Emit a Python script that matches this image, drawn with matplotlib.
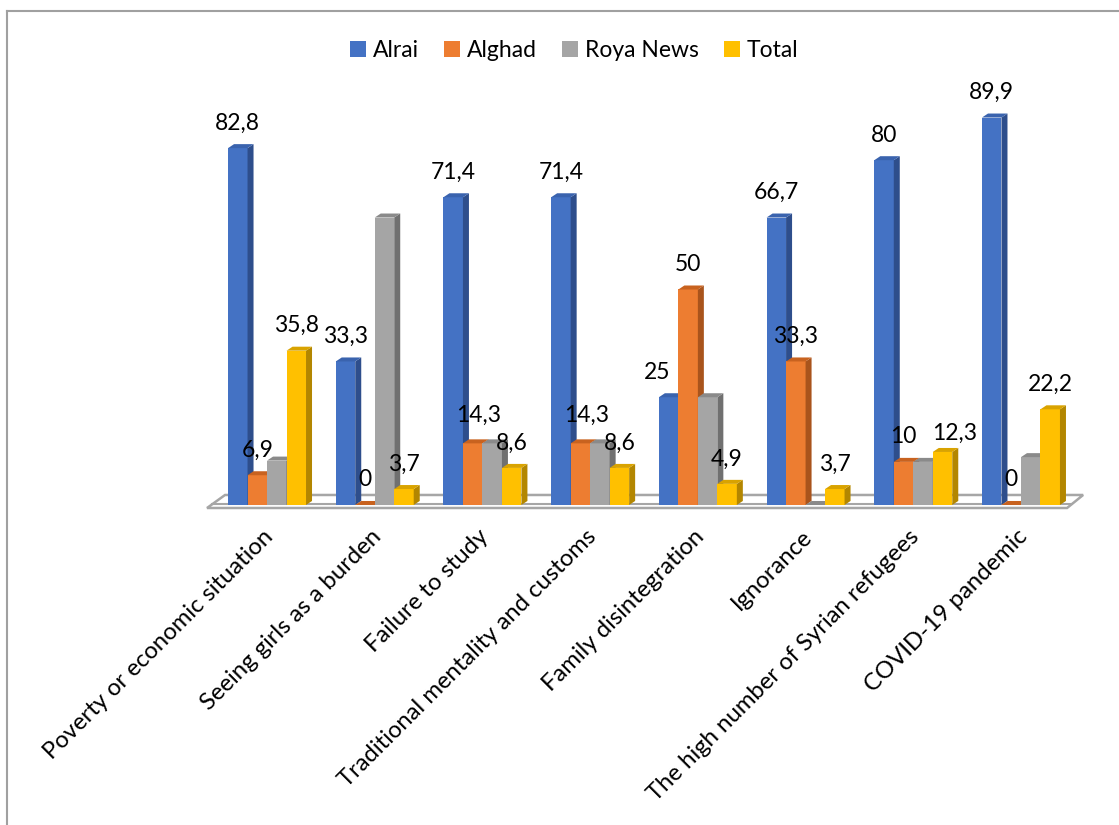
import matplotlib
matplotlib.use("Agg")
import matplotlib.pyplot as plt
from matplotlib.patches import Polygon, Patch
from matplotlib.lines import Line2D

plt.rcParams['font.family'] = ['Lato', 'DejaVu Sans']

categories = [
    "Poverty or economic situation",
    "Seeing girls as a burden",
    "Failure to study",
    "Traditional mentality and customs",
    "Family disintegration",
    "Ignorance",
    "The high number of Syrian refugees",
    "COVID-19 pandemic",
]
series_names = ["Alrai", "Alghad", "Roya News", "Total"]
alrai = [82.8, 33.3, 71.4, 71.4, 25, 66.7, 80, 89.9]
alghad = [6.9, 0, 14.3, 14.3, 50, 33.3, 10, 0]
roya_news = [10.3, 66.7, 14.3, 14.3, 25, 0, 10, 11.1]
total = [35.8, 3.7, 8.6, 8.6, 4.9, 3.7, 12.3, 22.2]
labelled = [True, True, False, True]  # Roya News carries no value labels

# front, side, top shades for the pseudo-3D bars
shades = [
    ("#4472C4", "#2E4E8C", "#3A63AE"),
    ("#ED7D31", "#A9541C", "#C8621F"),
    ("#A5A5A5", "#707070", "#8A8A8A"),
    ("#FFC000", "#B38600", "#D9A300"),
]

W, H, DPI = 1119, 825, 100
fig = plt.figure(figsize=(W / DPI, H / DPI), dpi=DPI)

# axes placed so one category step ~108 px and one value unit ~4.31 px
xlim = (-0.6, 7.6)
ylim = (-2.0, 100.0)
ax = fig.add_axes([202.4 / W, (H - 513.6) / H, 883.2 / W, 439.6 / H])
ax.set_xlim(*xlim)
ax.set_ylim(*ylim)
ax.axis("off")

bar_w = 0.181
dx = 6 / 107.7      # depth offset in category units
dy = 4 / 4.31       # depth offset in value units

all_series = [alrai, alghad, roya_news, total]
nudges = {(4, 0): (-11, 0), (6, 3): (12, -6), (2, 1): (6, 3), (3, 1): (6, 3)}

# floor slab
floor = Polygon([(-0.557, -0.70), (7.428, -0.70), (7.577, 2.32), (-0.390, 2.32)],
                closed=True, facecolor="white", edgecolor="#A6A6A6", lw=1.8, zorder=1)
ax.add_patch(floor)
ax.plot([-0.51, 7.465], [0.23, 0.23], color="#A6A6A6", lw=1.5, zorder=1.1)

for j, vals in enumerate(all_series):
    front, side, top = shades[j]
    z = 2 + j
    lefts = [i - 2 * bar_w + j * bar_w for i in range(len(categories))]
    ax.bar(lefts, vals, width=bar_w, align="edge", bottom=0,
           color=front, linewidth=0, zorder=z + 0.5)
    for x0, v in zip(lefts, vals):
        x1 = x0 + bar_w
        ax.add_patch(Polygon([(x1, 0), (x1 + dx, dy), (x1 + dx, v + dy), (x1, v)],
                             closed=True, facecolor=side, lw=0, zorder=z + 0.5))
        ax.add_patch(Polygon([(x0, v), (x1, v), (x1 + dx, v + dy), (x0 + dx, v + dy)],
                             closed=True, facecolor=top, lw=0, zorder=z + 0.5))
    if labelled[j]:
        for i, (x0, v) in enumerate(zip(lefts, vals)):
            ox, oy = nudges.get((i, j), (0, 0))
            ax.annotate(f"{v:g}".replace(".", ","), (x0 + bar_w / 2, v),
                        xytext=(ox * 0.72, 18 + oy * 0.72), textcoords="offset points",
                        ha="center", va="center", fontsize=16.5, color="black", zorder=20)

# rotated category labels
for i, name in enumerate(categories):
    ax.annotate(name, (i, ylim[0]), xytext=(2, -14), textcoords="offset points",
                rotation=45, ha="right", va="center", rotation_mode="anchor",
                fontsize=17.2, color="black", annotation_clip=False)

# legend
handles = [Patch(facecolor=s[0], edgecolor="none") for s in shades]
fig.legend(handles, series_names, loc="center", bbox_to_anchor=(0.513, 0.939),
           ncol=4, frameon=False, fontsize=16.5, handlelength=0.7, handleheight=0.7,
           handletextpad=0.3, columnspacing=1.1)

# chart area border (left and top edges)
fig.add_artist(Line2D([7 / W, 7 / W], [0, 1 - 11 / H], color="#A0A0A0", lw=1.5))
fig.add_artist(Line2D([7 / W, 1], [1 - 11 / H, 1 - 11 / H], color="#A0A0A0", lw=1.5))

fig.savefig("out.png", dpi=DPI, facecolor="white")
